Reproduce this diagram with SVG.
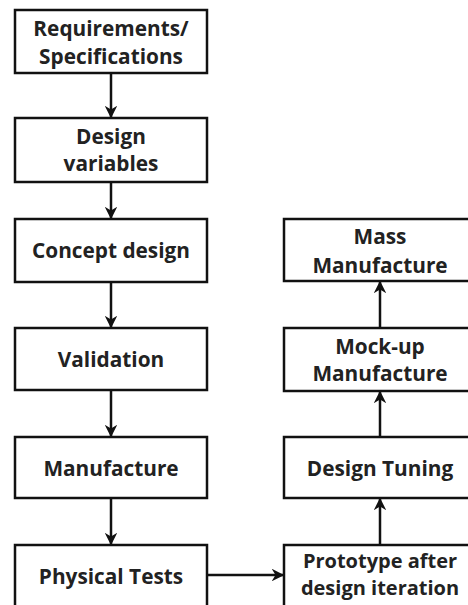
<svg xmlns="http://www.w3.org/2000/svg" width="468" height="605" viewBox="0 0 468 605">
<style>
.box{fill:#fff;stroke:#111;stroke-width:2.5}
.t{font-family:"Open Sans","Liberation Sans",sans-serif;font-weight:bold;font-size:20.8px;fill:#222;text-anchor:middle}
.s{font-size:20px}
.c{stroke:#111;stroke-width:2.5;fill:none;marker-end:url(#ah)}
</style>
<defs>
<marker id="ah" viewBox="0 0 10 10" refX="9" refY="5" markerWidth="5" markerHeight="5" orient="auto" markerUnits="strokeWidth">
<path d="M0,0 L10,5 L0,10 L3,5 Z" fill="#111"/>
</marker>
</defs>
<rect width="468" height="605" fill="#fff"/>
<g id="connectors">
<line class="c" x1="111" y1="73" x2="111" y2="117"/>
<line class="c" x1="111" y1="182" x2="111" y2="218"/>
<line class="c" x1="111" y1="282" x2="111" y2="327"/>
<line class="c" x1="111" y1="390" x2="111" y2="436"/>
<line class="c" x1="111" y1="498" x2="111" y2="544"/>
<line class="c" x1="207" y1="575" x2="283" y2="575"/>
<line class="c" x1="380" y1="545" x2="380" y2="499"/>
<line class="c" x1="380" y1="436" x2="380" y2="392"/>
<line class="c" x1="380" y1="328" x2="380" y2="282"/>
</g>
<g id="n1"><rect class="box" x="15" y="10" width="192" height="63"/><text class="t" x="111" y="36">Requirements/</text><text class="t" x="111" y="64">Specifications</text></g>
<g id="n2"><rect class="box" x="15" y="118" width="192" height="64"/><text class="t" x="111" y="144">Design</text><text class="t" x="111" y="171">variables</text></g>
<g id="n3"><rect class="box" x="15" y="219" width="192" height="63"/><text class="t" x="111" y="258">Concept design</text></g>
<g id="n4"><rect class="box" x="15" y="328" width="192" height="62"/><text class="t" x="111" y="367">Validation</text></g>
<g id="n5"><rect class="box" x="15" y="437" width="192" height="61"/><text class="t" x="111" y="476">Manufacture</text></g>
<g id="n6"><rect class="box" x="15" y="545" width="192" height="70"/><text class="t" x="111" y="584">Physical Tests</text></g>
<g id="n7"><rect class="box" x="284" y="219" width="192" height="62"/><text class="t" x="380" y="244">Mass</text><text class="t" x="380" y="273">Manufacture</text></g>
<g id="n8"><rect class="box" x="284" y="328" width="192" height="63"/><text class="t" x="380" y="354">Mock-up</text><text class="t" x="380" y="381">Manufacture</text></g>
<g id="n9"><rect class="box" x="284" y="437" width="192" height="61"/><text class="t" x="380" y="476">Design Tuning</text></g>
<g id="n10"><rect class="box" x="284" y="545" width="192" height="70"/><text class="t s" x="380" y="568">Prototype after</text><text class="t s" x="380" y="595">design iteration</text></g>
</svg>
